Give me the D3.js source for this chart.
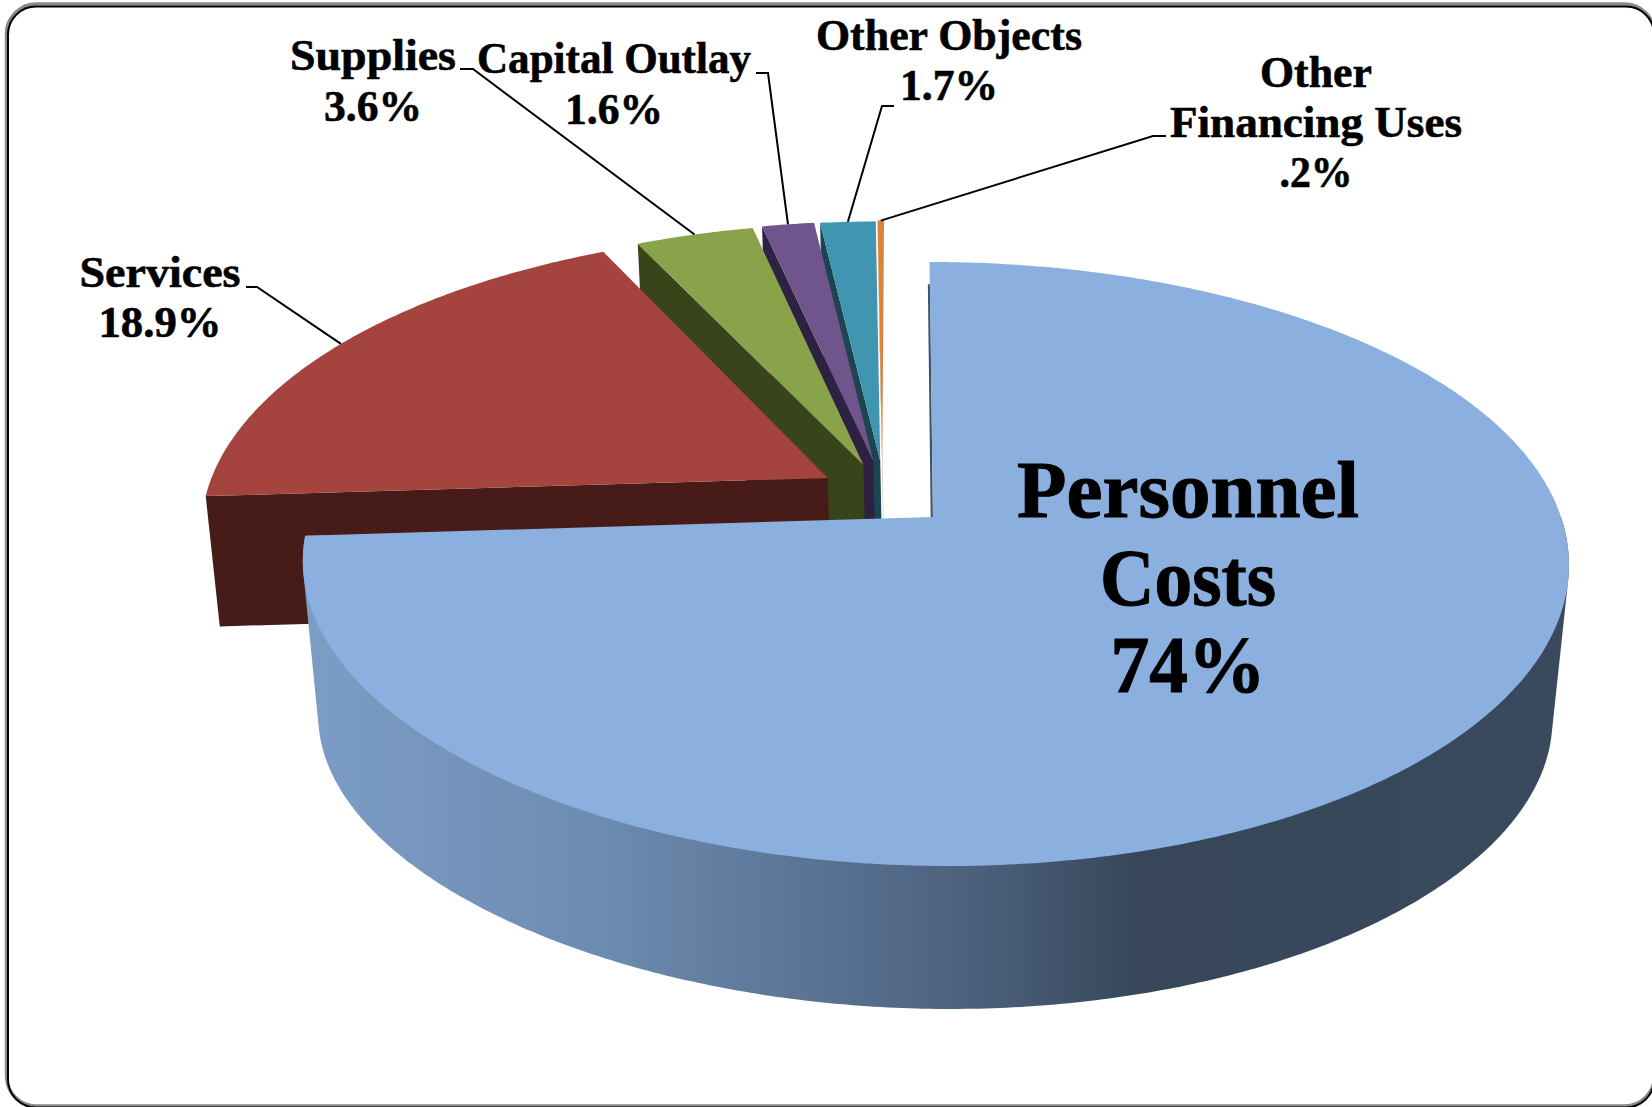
<!DOCTYPE html>
<html>
<head>
<meta charset="utf-8">
<script src="https://cdn.jsdelivr.net/npm/d3@7"></script>
<style>
  html, body { margin: 0; padding: 0; background: #fff; }
  svg { display: block; }
  text { font-family: "Liberation Serif", serif; font-weight: bold; fill: #000; stroke: #000; text-anchor: middle; }
</style>
</head>
<body>
<svg id="chart" width="1652" height="1107"></svg>
<script>
const categories = ['Personnel Costs', 'Services', 'Supplies', 'Capital Outlay', 'Other Objects', 'Other Financing Uses'];
const shares = [74, 18.9, 3.6, 1.6, 1.7, 0.2];

const topColors = ['#8bafde', '#a5443f', '#89a34b', '#70558d', '#4095b0', '#db843d'];
const faceColors = ['#3f5068', '#461b18', '#39441b', '#2e2142', '#1c4552', '#6e4a1e'];

// how far each slice is pulled out, in pie radii on the plane of the pie
const offsetU = [0, -0.1724, -0.1146, -0.0985, -0.087, -0.0837];
const offsetV = [0, -0.1351, -0.1814, -0.1958, -0.1958, -0.1994];
const radii = [1, 1.01, 1, 0.993, 0.993, 0.993];
const wallScale = [1, 0.82, 0.82, 0.82, 0.82, 0.82];

// label text, one entry per line
const labelLines = [
  ['Personnel', 'Costs', '74%'],
  ['Services', '18.9%'],
  ['Supplies', '3.6%'],
  ['Capital Outlay', '1.6%'],
  ['Other Objects', '1.7%'],
  ['Other', 'Financing Uses', '.2%']
];
const labelWidths = [[342, 176, 155], [161, 123], [166, 98], [274, 98], [266, 98], [112, 292, 73]];
const labelX = [1188, 160, 373, 614, 949, 1316];
const labelBaseY = [517, 287, 70, 73, 50, 87];
const labelStep = [87.5, 50, 50.5, 51, 49.5, 50];
const labelSize = [80, 44, 44, 44, 44, 44];
const labelWeight = [1, 0.6, 0.6, 0.6, 0.6, 0.6];

// elbow of the leader lines, next to the label
const leaderStartX = [null, 246, 460, 756, 894, 1166];
const leaderElbowX = [null, 257, 473, 768, 882, 1153];
const leaderY = [null, 287, 69, 73, 106, 136];

const wallStops = [0, 0.24, 0.4, 0.55, 0.66, 1];
const wallColors = ['#7c9dc6', '#6c8bb0', '#5a7494', '#495d79', '#374759', '#3a4a5e'];

const svg = d3.select('#chart');

// top face and bottom face of the disc, perspective on the v axis.
// front and back drift a little sideways, the picture is not a clean ellipse
const topPlane = { cx: 933, cy: 517, rxL: 623, rxR: 628, ry: 294.7, k: 0.1556, front: 15, back: -3.5, narrow: 0.012 };
const basePlane = { cx: 935, cy: 675, rxL: 610, rxR: 610, ry: 282, k: 0.1556, front: 15, back: -3.5, narrow: 0.03 };
const onPlane = plane => ([u, v]) => {
  const w = 1 - plane.k * v;
  const rx = u < 0 ? plane.rxL : plane.rxR;
  const squeeze = v > 0 ? 1 - plane.narrow * v * v : 1;
  const drift = (v > 0 ? plane.front : plane.back) * v * v;
  return [plane.cx + drift + rx * u * squeeze / w, plane.cy + plane.ry * v / w];
};
const toTop = onPlane(topPlane);
const toBase = onPlane(basePlane);

const polar = (i, a, r) => [offsetU[i] + r * radii[i] * Math.sin(a), offsetV[i] - r * radii[i] * Math.cos(a)];
const arcPoints = (i, a0, a1) => {
  const n = Math.max(2, Math.ceil((a1 - a0) / 0.01));
  return d3.range(n + 1).map(j => polar(i, a0 + (a1 - a0) * j / n, 1));
};
const lower = i => p => {
  const t = toTop(p);
  const b = toBase(p);
  return [t[0] + (b[0] - t[0]) * wallScale[i], t[1] + (b[1] - t[1]) * wallScale[i]];
};

const line = d3.line();
const slices = d3.pie().sort(null).startAngle(0).endAngle(2 * Math.PI)(shares)
  .map((d, i) => ({ ...d, i }));

// wall gradient of the big slice
const grad = svg.append('defs').append('linearGradient')
  .attr('id', 'wall')
  .attr('gradientUnits', 'userSpaceOnUse')
  .attr('x1', 303).attr('x2', 1569).attr('y1', 0).attr('y2', 0);
grad.selectAll('stop').data(wallStops).enter().append('stop')
  .attr('offset', d => d)
  .attr('stop-color', (d, i) => wallColors[i]);

// frame, the right edge sits just off the page
svg.append('rect')
  .attr('x', 6.5).attr('y', 4).attr('width', 1648).attr('height', 1102).attr('rx', 30)
  .attr('fill', 'none').attr('stroke', '#8a8a8a').attr('stroke-width', 3.5);
svg.append('rect')
  .attr('x', 8).attr('y', 6.5).attr('width', 1646).attr('height', 1101).attr('rx', 28)
  .attr('fill', 'none').attr('stroke', '#000').attr('stroke-width', 2);

const pie = svg.append('g');

// back to front, the big slice goes last
slices.slice().reverse().forEach(d => {
  const i = d.i;
  const outer = polar(i, d.startAngle, 1);
  const apex = polar(i, d.startAngle, 0);
  const g = pie.append('g').attr('class', 'slice');

  if (i === 0) {
    // wall is the hull of the front half of both rims, the top face hides the chord
    const front = arcPoints(i, Math.PI / 2, d.endAngle);
    const wall = d3.polygonHull(front.map(toTop).concat(front.map(lower(i))));
    g.append('path').attr('d', line(wall) + 'Z').attr('fill', 'url(#wall)');
    // the cut edge only shows as a thin dark line
    g.append('path')
      .attr('d', line([toTop(polar(i, 0, 0.9)), toTop(apex)]))
      .attr('transform', 'translate(-1.2,0)')
      .attr('stroke', faceColors[i]).attr('stroke-width', 2.2).attr('fill', 'none');
  } else {
    const face = [toTop(apex), toTop(outer), lower(i)(outer), lower(i)(apex)];
    g.append('path').attr('d', line(face) + 'Z').attr('fill', faceColors[i]);
  }

  const top = [toTop(apex)].concat(arcPoints(i, d.startAngle, d.endAngle).map(toTop));
  g.append('path').attr('d', line(top) + 'Z').attr('fill', topColors[i]);
});

// leader lines end on the outer edge at the middle of the slice
svg.append('g').selectAll('path').data(slices.slice(1)).enter().append('path')
  .attr('fill', 'none').attr('stroke', '#000').attr('stroke-width', 2)
  .attr('d', d => line([
    [leaderStartX[d.i], leaderY[d.i]],
    [leaderElbowX[d.i], leaderY[d.i]],
    toTop(polar(d.i, (d.startAngle + d.endAngle) / 2, 1))
  ]));

const labels = svg.append('g').selectAll('g').data(labelLines).enter().append('g')
  .attr('data-category', (d, i) => categories[i]);
labels.selectAll('text').data((lines, i) => lines.map((t, j) => ({ t, j, i }))).enter().append('text')
  .attr('x', d => labelX[d.i])
  .attr('y', d => labelBaseY[d.i] + d.j * labelStep[d.i])
  .attr('font-size', d => labelSize[d.i])
  .attr('stroke-width', d => labelWeight[d.i])
  .attr('textLength', d => labelWidths[d.i][d.j])
  .attr('lengthAdjust', 'spacingAndGlyphs')
  .text(d => d.t);
</script>
</body>
</html>
